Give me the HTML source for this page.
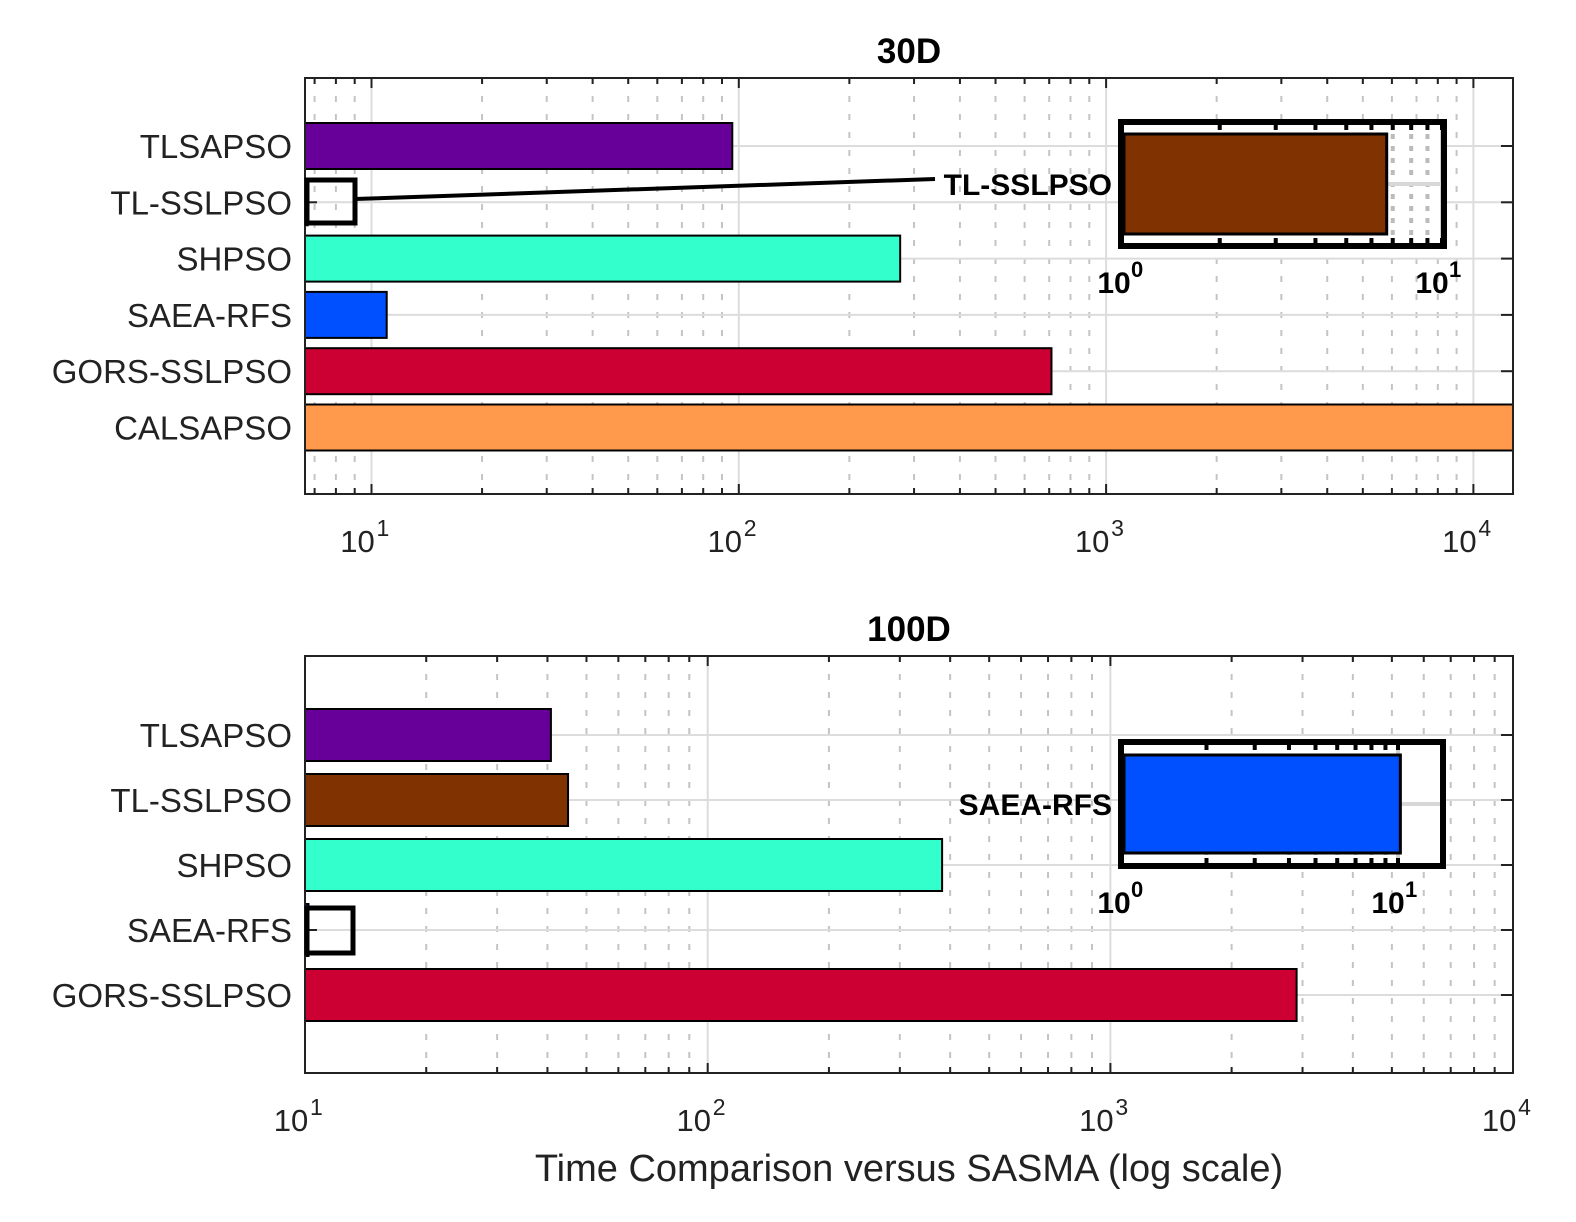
<!DOCTYPE html>
<html><head><meta charset="utf-8"><style>
html,body{margin:0;padding:0;background:#fff;}
svg{display:block;font-family:"Liberation Sans",sans-serif;}
</style></head><body>
<svg id="chart" width="1576" height="1222" viewBox="0 0 1576 1222" xmlns="http://www.w3.org/2000/svg"></svg>
<script>
const categoriesTop = ["TLSAPSO","TL-SSLPSO","SHPSO","SAEA-RFS","GORS-SSLPSO","CALSAPSO"];
const valuesTop = [96, 6.7, 275, 11, 710, 15000];
const colorsTop = ["#660099","#803300","#33FFCC","#0050FF","#CC0033","#FF9A4D"];
const categoriesBot = ["TLSAPSO","TL-SSLPSO","SHPSO","SAEA-RFS","GORS-SSLPSO"];
const valuesBot = [40.8, 45, 382, 10.2, 2900];
const colorsBot = ["#660099","#803300","#33FFCC","#0050FF","#CC0033"];
const tickExpTop = [1,2,3,4];
const tickExpBot = [1,2,3,4];

const svg = document.getElementById('chart');
const NS = "http://www.w3.org/2000/svg";
function mk(tag, attrs, parent){const e=document.createElementNS(NS,tag);for(const k in attrs)e.setAttribute(k,attrs[k]);(parent||svg).appendChild(e);return e;}

function logAxis(x0, lx0, decade){ return v => x0 + (Math.log10(v)-lx0)*decade; }

function panel(o){
  const g = mk('g',{});
  
  
  const X = logAxis(o.left, o.lmin, o.decade);
  const lmax = o.lmin + (o.right-o.left)/o.decade;
  for(let e=Math.floor(o.lmin); e<=Math.ceil(lmax); e++){
    for(let m=1;m<10;m++){
      const v=m*Math.pow(10,e); const lv=Math.log10(v);
      if(lv<o.lmin-1e-9||lv>lmax+1e-9) continue;
      const x=X(v);
      const gl = mk('line',{x1:x,x2:x,y1:o.top,y2:o.bottom,stroke:m===1?'#dcdcdc':'#c4c4c4','stroke-width':2,'stroke-dasharray':m===1?'none':'6 12'},g);
      
      
      const tl = m===1?10:6;
      mk('line',{x1:x,x2:x,y1:o.bottom,y2:o.bottom-tl,stroke:'#222','stroke-width':2},g);
      mk('line',{x1:x,x2:x,y1:o.top,y2:o.top+tl,stroke:'#222','stroke-width':2},g);
    }
  }
  o.cats.forEach((c,i)=>{
    const y=o.y0+i*o.dy;
    mk('line',{x1:o.left,x2:o.right,y1:y,y2:y,stroke:'#dcdcdc','stroke-width':2},g);
    mk('line',{x1:o.right,x2:o.right-12,y1:y,y2:y,stroke:'#222','stroke-width':2},g);
    mk('line',{x1:o.left,x2:o.left+12,y1:y,y2:y,stroke:'#222','stroke-width':2},g);
  });
  o.cats.forEach((c,i)=>{
    const y=o.y0+i*o.dy;
    const xe=Math.min(X(o.vals[i]), o.right);
    const r=mk('rect',{x:o.left,y:y-o.bh/2,width:Math.max(0,xe-o.left),height:o.bh,fill:o.colors[i],stroke:'#000','stroke-width':2},g);
    
    
    const t=mk('text',{x:o.left-13,y:y+12,'text-anchor':'end','font-size':33,fill:'#222'},g);
    t.textContent=c;
    
    
  });
  const b=mk('rect',{x:o.left,y:o.top,width:o.right-o.left,height:o.bottom-o.top,fill:'none',stroke:'#222','stroke-width':2},g);
  
  
  o.ticks.forEach(e=>{
    const x=X(Math.pow(10,e));
    const t=mk('text',{x:x-14,y:o.bottom+o.tickDy,'text-anchor':'middle','font-size':31,fill:'#222'},g);
    t.textContent='10';
    
    
    const s=mk('text',{x:x+5,y:o.bottom+o.tickDy-16,'text-anchor':'start','font-size':23,fill:'#222'},g);
    s.textContent=String(e);
  });
  const ti=mk('text',{x:909,y:o.top-15,'text-anchor':'middle','font-size':35,'font-weight':'bold',fill:'#000'},g);
  ti.textContent=o.title;
  
  
  return X;
}

function inset(o){
  const g=mk('g',{});
  
  
  mk('rect',{x:o.l,y:o.t,width:o.r-o.l,height:o.b-o.t,fill:'#fff'},g);
  const X=logAxis(o.l+3,0,o.decade);
  for(let m=2;m<=10;m++){
    const x=X(m); if(x>o.r) break;
    mk('line',{x1:x,x2:x,y1:o.t,y2:o.b,stroke:m===10?'#d0d0d0':'#bbb','stroke-width':4,'stroke-dasharray':m===10?'none':'5 7'},g);
    mk('line',{x1:x,x2:x,y1:o.t,y2:o.t+8,stroke:'#000','stroke-width':4},g);
    mk('line',{x1:x,x2:x,y1:o.b,y2:o.b-8,stroke:'#000','stroke-width':4},g);
  }
  const ym=(o.t+o.b)/2;
  mk('line',{x1:o.l,x2:o.r,y1:ym,y2:ym,stroke:'#d8d8d8','stroke-width':4},g);
  const r=mk('rect',{x:o.l+3,y:o.bt,width:X(o.val)-(o.l+3),height:o.bb-o.bt,fill:o.color,stroke:'#000','stroke-width':3},g);
  
  
  mk('rect',{x:o.l,y:o.t,width:o.r-o.l,height:o.b-o.t,fill:'none',stroke:'#000','stroke-width':6},g);
  [[0,X(1)],[1,X(10)]].forEach(([e,x])=>{
    const t=mk('text',{x:x-10,y:o.b+47,'text-anchor':'middle','font-size':30,'font-weight':'bold',fill:'#000'},g);
    t.textContent='10';
    
    
    const s=mk('text',{x:x+7,y:o.b+31,'font-size':22,'font-weight':'bold',fill:'#000'},g);
    s.textContent=String(e);
  });
  const lb=mk('text',{x:o.lx,y:o.ly,'text-anchor':'end','font-size':30,'font-weight':'bold',fill:'#000'},g);
  lb.textContent=o.label;
  
  
}

panel({name:'panel-30d',title:'30D',left:305,right:1513,top:78,bottom:494,lmin:1-(371.5-305)/367.3,decade:367.3,
  cats:categoriesTop,vals:valuesTop,colors:colorsTop,y0:146,dy:56.3,bh:46,ticks:tickExpTop,tickDy:58});
panel({name:'panel-100d',title:'100D',left:305,right:1513,top:656,bottom:1073,lmin:1,decade:402.7,
  cats:categoriesBot,vals:valuesBot,colors:colorsBot,y0:735,dy:65,bh:52,ticks:tickExpBot,tickDy:58});

let zb=mk('rect',{x:307,y:180,width:48,height:43,fill:'none',stroke:'#000','stroke-width':5});


let zl=mk('line',{x1:355,y1:199,x2:935,y2:179,stroke:'#000','stroke-width':4});


zb=mk('rect',{x:307,y:908,width:46,height:45,fill:'none',stroke:'#000','stroke-width':5});



inset({name:'inset-30d',l:1121,r:1444,t:122,b:246,bt:134,bb:234,decade:318,val:valuesTop[1],color:colorsTop[1],label:'TL-SSLPSO',lx:1112,ly:195});
inset({name:'inset-100d',l:1121,r:1443,t:742,b:866,bt:755,bb:853,decade:274,val:valuesBot[3],color:colorsBot[3],label:'SAEA-RFS',lx:1112,ly:815});

const xl=mk('text',{x:909,y:1181,'text-anchor':'middle','font-size':38,fill:'#222'});
xl.textContent='Time Comparison versus SASMA (log scale)';


</script>
</body></html>
